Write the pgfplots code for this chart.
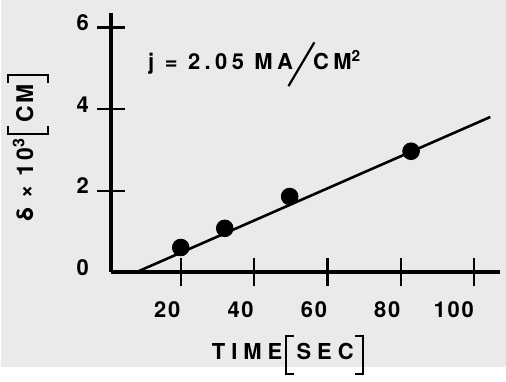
\documentclass[border=0pt]{standalone}
\usepackage{pgfplots}
\pgfplotsset{compat=1.18}
\usepackage{fontspec}
\setmainfont{TeX Gyre Heros}
\newfontfamily\spaced[LetterSpace=27]{TeX Gyre Heros}
\newfontfamily\tickfont[LetterSpace=8]{TeX Gyre Heros}
\newfontfamily\titlefont[LetterSpace=20]{TeX Gyre Heros}
\newfontfamily\ylabfont[LetterSpace=12]{TeX Gyre Heros}
\definecolor{paper}{RGB}{234,234,234}
\newcommand\lbrk{\kern0.12em\rlap{\rule[-0.7em]{0.11em}{1.85em}}\rlap{\rule[1.04em]{0.42em}{0.11em}}\rule[-0.7em]{0.42em}{0.11em}\kern0.12em}
\newcommand\rbrk{\kern0.05em\rlap{\rule[1.04em]{0.42em}{0.11em}}\rlap{\rule[-0.7em]{0.42em}{0.11em}}\kern0.31em\rule[-0.7em]{0.11em}{1.85em}}
\begin{document}
\begin{tikzpicture}
\fill[paper] (-55.1pt,-47.5pt) rectangle (197.9pt,136.5pt);
\begin{axis}[
  scale only axis, width=194.8pt, height=130.2pt,
  xmin=1, xmax=107, ymin=0, ymax=6.37,
  axis lines*=left,
  axis line style={line width=1.9pt, line cap=butt},
  xtick={20,40,60,80,100}, ytick={2,4,6},
  extra y ticks={0}, extra y tick style={tick style={draw=none}},
  tick align=center, major tick length=14pt,
  tick style={line width=1.2pt, black},
  /pgf/number format/assume math mode=true,
  ticklabel style={font=\tickfont\bfseries\fontsize{11}{13}\selectfont, inner sep=0pt},
  xticklabel style={anchor=north east, yshift=-7.5pt},
  yticklabel style={anchor=east, xshift=-4pt, yshift=2.5pt},
  clip=false,
  xlabel={\spaced\bfseries TIME\lbrk SEC\rbrk},
  xlabel style={at={(axis description cs:0.455,-0.318)}, anchor=center, font=\fontsize{11}{13}\selectfont},
  ylabel={\ylabfont\bfseries δ × 10\textsuperscript{3}\lbrk CM\rbrk},
  ylabel style={at={(axis description cs:-0.214,0.48)}, anchor=center, font=\fontsize{11.5}{13}\selectfont},
]
\addplot[black, line width=1.3pt] coordinates {(7.75,0) (104.4,3.81)};
\addplot[only marks, mark=*, mark size=4.2pt, black] coordinates {
  (20,0.61) (32,1.08) (49.7,1.86) (82.8,2.97)};
\node[anchor=base west, inner sep=0pt, font=\titlefont\bfseries\fontsize{11}{13}\selectfont]
  at (axis description cs:0.0945,0.78)
  {j = 2.05 MA\kern-0.25em\raisebox{-8.5pt}{\rotatebox{59.4}{\rule{25.5pt}{1.1pt}}}\kern-0.1em CM\textsuperscript{2}};
\end{axis}
\end{tikzpicture}
\end{document}
